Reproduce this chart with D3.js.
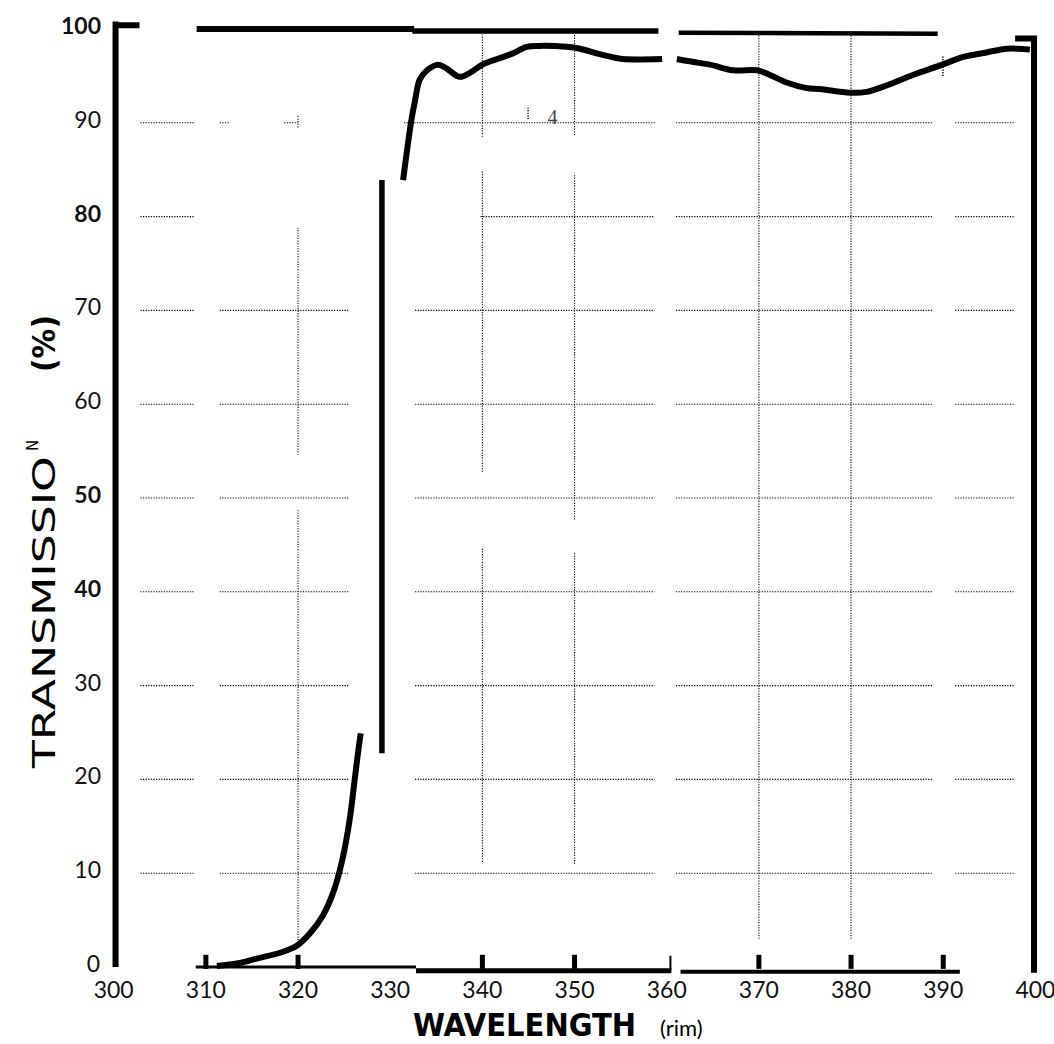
<!DOCTYPE html>
<html>
<head>
<meta charset="utf-8">
<script src="https://cdn.jsdelivr.net/npm/d3@7"></script>
<style>
  html, body { margin: 0; padding: 0; background: #fff; }
  svg { display: block; }
</style>
</head>
<body>
<div id="chart"></div>
<script>
// ---- data ----
var xTicks = [300, 310, 320, 330, 340, 350, 360, 370, 380, 390, 400];
var yTicks = [0, 10, 20, 30, 40, 50, 60, 70, 80, 90, 100];
var yBoldTicks = [100, 80, 50, 40];

// toe of the edge (nm, % transmission)
var lowNm = [311.2, 313.5, 315.5, 318.3, 319.9, 321.3, 322.7, 323.8, 324.8, 325.6, 326.1, 326.5, 326.8];
var lowT  = [0.1, 0.4, 0.9, 1.6, 2.3, 3.6, 5.5, 7.9, 11.4, 15.7, 19.6, 22.8, 24.9];

// steep part drawn as a single bar
var stepNm = 329.1;
var stepT = [22.8, 83.9];

// plateau, first sheet
var upANm = [331.4, 332.3, 332.7, 333.2, 334.0, 335.2, 336.1, 337.5, 338.6, 340.0, 341.9, 343.3, 344.8, 346.2, 349.1, 350.6, 352.4, 354.1, 355.2, 359.5];
var upAT  = [83.9, 90.3, 92.4, 94.6, 95.6, 96.2, 95.8, 94.9, 95.3, 96.2, 96.9, 97.4, 98.1, 98.2, 98.1, 97.9, 97.4, 97.0, 96.8, 96.8];

// plateau, second sheet
var upBNm = [361.1, 362.8, 364.7, 367.2, 369.8, 371.2, 373.0, 375.2, 376.6, 379.9, 381.7, 383.9, 386.7, 389.9, 392.1, 394.7, 396.9, 399.4];
var upBT  = [96.8, 96.5, 96.2, 95.6, 95.6, 95.1, 94.3, 93.7, 93.6, 93.2, 93.3, 94.0, 95.1, 96.2, 97.0, 97.5, 97.9, 97.8];

// dotted grid pieces (the scan has gaps)
var gridRowSegs = [[302.9, 308.8], [311.5, 325.6], [332.7, 358.7], [361.0, 388.9], [391.3, 397.8]];
var grid80Segs = [[302.9, 308.8], [339.8, 358.7], [361.0, 388.9], [391.3, 397.8]];
var grid90Segs = [[302.9, 308.8], [311.5, 312.6], [318.5, 320.0], [331.5, 358.7], [361.0, 388.9], [391.3, 397.8]];
var gridColNm = [320, 340, 350, 370, 380];
var gridColSegs = [
  [[2.3, 48.7], [54.6, 78.8], [89.5, 90.8]],
  [[11.2, 44.6], [52.8, 84.8], [88.5, 99.4]],
  [[11.0, 44.2], [47.7, 84.6], [88.7, 99.4]],
  [[3.0, 99.3]],
  [[3.0, 99.5]]
];
var bottomTickNm = [310, 320, 340, 350, 370, 380, 390];

// frame pieces of the original sheets [nm0, T0, nm1, T1]
var frameTop = [[300.2, 100.4, 302.8, 100.4], [309.0, 100.0, 332.6, 100.0], [332.4, 99.8, 359.1, 99.8], [361.3, 99.6, 389.4, 99.5]];
var frameBottom = [[308.9, 0.0, 332.8, 0.0], [332.8, -0.4, 360.5, -0.4], [361.5, -0.5, 391.8, -0.5]];

// ---- drawing ----
var W = 1054, H = 1044;
var svg = d3.select("#chart").append("svg")
  .attr("width", W)
  .attr("height", H);

var x = d3.scaleLinear().domain([300, 400]).range([113.7, 1035.4]);
var y = d3.scaleLinear().domain([0, 100]).range([967, 29]);

var grid = svg.append("g")
  .attr("stroke", "#000")
  .attr("stroke-width", 1.1)
  .attr("stroke-dasharray", "1.2,1.4")
  .attr("fill", "none");

yTicks.filter(function(v){ return v > 0 && v < 100; }).forEach(function(v){
  var segs = v === 90 ? grid90Segs : (v === 80 ? grid80Segs : gridRowSegs);
  segs.forEach(function(s){
    grid.append("line")
      .attr("x1", x(s[0])).attr("x2", x(s[1]))
      .attr("y1", y(v)).attr("y2", y(v));
  });
});

gridColNm.forEach(function(nm, i){
  gridColSegs[i].forEach(function(s){
    grid.append("line")
      .attr("x1", x(nm)).attr("x2", x(nm))
      .attr("y1", y(s[0])).attr("y2", y(s[1]));
  });
});

// stray marks on the scan
grid.append("line").attr("x1", x(344.96)).attr("x2", x(344.96)).attr("y1", y(90.4)).attr("y2", y(91.6))
  .attr("stroke-dasharray", null).attr("stroke-width", 1.5);
grid.append("line").attr("x1", x(389.97)).attr("x2", x(389.97)).attr("y1", y(95.0)).attr("y2", y(97.2))
  .attr("stroke-width", 1.5);

svg.append("text")
  .attr("x", x(347.6)).attr("y", y(89.9))
  .attr("text-anchor", "middle")
  .attr("font-family", "Liberation Serif")
  .attr("font-size", 20)
  .attr("fill", "#444")
  .text("4");

// frame
var frame = svg.append("g").attr("stroke", "#000").attr("fill", "none").attr("stroke-linecap", "butt");

frame.append("line")
  .attr("x1", x(300.2)).attr("x2", x(300.2))
  .attr("y1", y(0)).attr("y2", y(100.8))
  .attr("stroke-width", 6);
frame.append("line")
  .attr("x1", x(399.85)).attr("x2", x(399.85))
  .attr("y1", y(-0.6)).attr("y2", y(99.1))
  .attr("stroke-width", 6);
frame.append("path")
  .attr("d", "M" + x(397.8) + "," + y(99.0) + "H" + x(399.85) + "V" + y(98.0))
  .attr("stroke-width", 6);

var topW = [6, 6, 5.5, 4.5];
frameTop.forEach(function(s, i){
  frame.append("line")
    .attr("x1", x(s[0])).attr("y1", y(s[1]))
    .attr("x2", x(s[2])).attr("y2", y(s[3]))
    .attr("stroke-width", topW[i]);
});
var botW = [3, 5, 4];
frameBottom.forEach(function(s, i){
  frame.append("line")
    .attr("x1", x(s[0])).attr("y1", y(s[1]))
    .attr("x2", x(s[2])).attr("y2", y(s[3]))
    .attr("stroke-width", botW[i]);
});
// little upturn at the end of the middle sheet
frame.append("line")
  .attr("x1", x(360.4)).attr("x2", x(360.4))
  .attr("y1", y(-0.4)).attr("y2", y(1.2))
  .attr("stroke-width", 2);

frame.selectAll(".btick")
  .data(bottomTickNm)
  .enter().append("line")
  .attr("class", "btick")
  .attr("x1", function(d){ return x(d); })
  .attr("x2", function(d){ return x(d); })
  .attr("y1", y(-0.2))
  .attr("y2", y(1.3))
  .attr("stroke-width", 5);

// transmission curve
var line = d3.line()
  .x(function(d){ return x(d[0]); })
  .y(function(d){ return y(d[1]); })
  .curve(d3.curveCatmullRom.alpha(0.5));

function pairs(a, b){ return a.map(function(v, i){ return [v, b[i]]; }); }

var curves = svg.append("g")
  .attr("fill", "none")
  .attr("stroke", "#000")
  .attr("stroke-width", 6)
  .attr("stroke-linejoin", "round");

curves.append("path").attr("d", line(pairs(lowNm, lowT)));
curves.append("path").attr("d", line(pairs(upANm, upAT)));
curves.append("path").attr("d", line(pairs(upBNm, upBT)));
curves.append("line")
  .attr("x1", x(stepNm)).attr("x2", x(stepNm))
  .attr("y1", y(stepT[0])).attr("y2", y(stepT[1]))
  .attr("stroke-width", 5.5);

// tick labels
svg.append("g").selectAll("text")
  .data(xTicks)
  .enter().append("text")
  .attr("x", function(d){ return x(d); })
  .attr("y", 998)
  .attr("text-anchor", "middle")
  .attr("font-family", "Lato, 'Open Sans', sans-serif")
  .attr("font-size", 23)
  .attr("fill", "#111")
  .text(function(d){ return d; });

svg.append("g").selectAll("text")
  .data(yTicks)
  .enter().append("text")
  .attr("x", function(d){ return d === 0 ? 100 : 101; })
  .attr("y", function(d){ return y(d) - 3; })
  .attr("dy", "0.35em")
  .attr("text-anchor", "end")
  .attr("font-family", "Lato, 'Open Sans', sans-serif")
  .attr("font-size", 23)
  .attr("font-weight", function(d){ return yBoldTicks.indexOf(d) >= 0 ? "bold" : "normal"; })
  .attr("fill", "#111")
  .text(function(d){ return d; });

// axis titles
svg.append("text")
  .attr("x", 413).attr("y", 1036)
  .attr("font-family", "'DejaVu Sans Condensed', 'Liberation Sans Narrow', 'DejaVu Sans', sans-serif")
  .attr("font-weight", "bold")
  .attr("font-size", 32)
  .attr("textLength", 223)
  .attr("lengthAdjust", "spacingAndGlyphs")
  .text("WAVELENGTH");

svg.append("text")
  .attr("x", 660).attr("y", 1036)
  .attr("font-family", "Lato, 'Open Sans', sans-serif")
  .attr("font-size", 22)
  .text("(rim)");

var yt = svg.append("g").attr("transform", "translate(55,768) rotate(-90)");
yt.append("text")
  .attr("x", 0).attr("y", 0)
  .attr("font-family", "'DejaVu Sans', sans-serif")
  .attr("font-size", 32)
  .attr("textLength", 312)
  .attr("lengthAdjust", "spacingAndGlyphs")
  .text("TRANSMISSIO");
yt.append("text")
  .attr("x", 317).attr("y", -17)
  .attr("font-family", "'DejaVu Sans', sans-serif")
  .attr("font-size", 15)
  .text("N");
yt.append("text")
  .attr("x", 396).attr("y", 0)
  .attr("font-family", "'DejaVu Sans', sans-serif")
  .attr("font-weight", "bold")
  .attr("font-size", 32)
  .attr("textLength", 57)
  .attr("lengthAdjust", "spacingAndGlyphs")
  .text("(%)");
</script>
</body>
</html>
